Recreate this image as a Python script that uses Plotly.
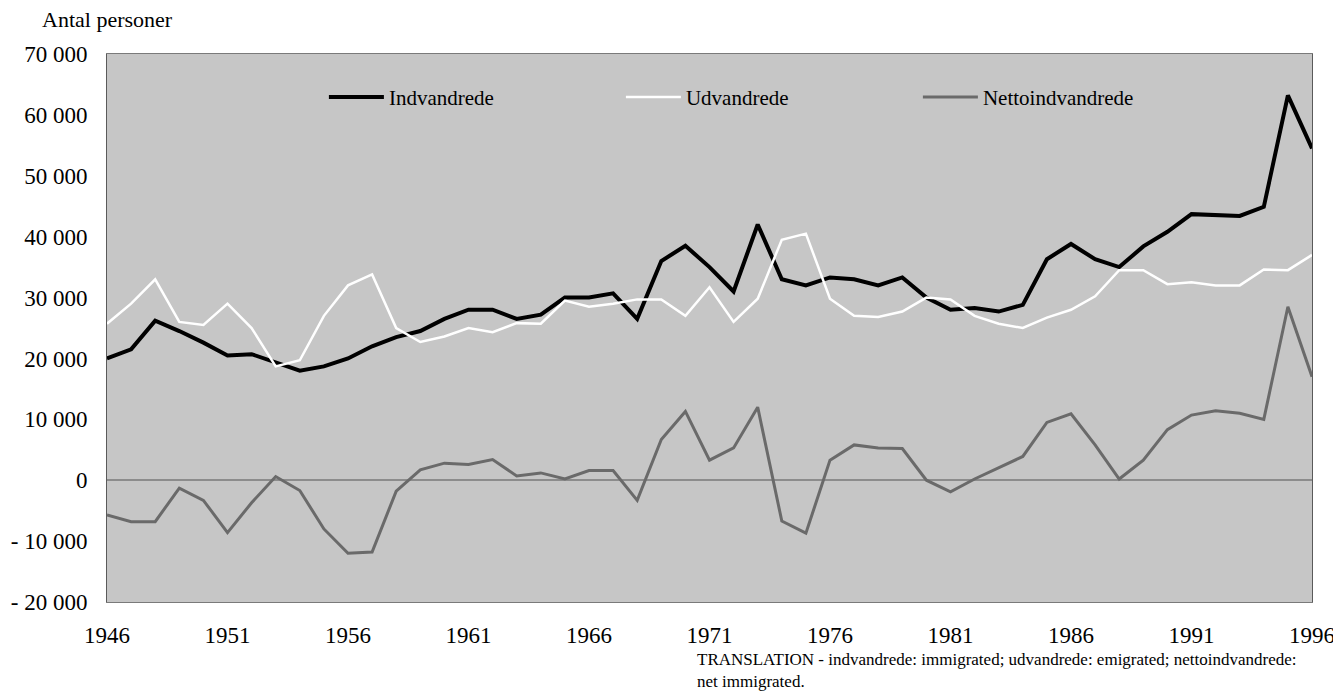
import plotly.graph_objects as go

years = list(range(1946, 1997))

indvandrede = [20000, 21500, 26200, 24500, 22600, 20500, 20700, 19400, 18000, 18700,
               20000, 22000, 23500, 24500, 26500, 28000, 28000, 26500, 27200, 30000,
               30000, 30700, 26500, 36000, 38500, 35000, 31000, 42000, 33000, 32000,
               33300, 33000, 32000, 33300, 30000, 28000, 28300, 27700, 28800, 36300,
               38800, 36300, 35000, 38400, 40800, 43700, 43500, 43400, 44900, 63200,
               54500]

udvandrede = [25700, 29000, 33000, 26000, 25500, 29000, 25000, 18700, 19700, 27000,
              32000, 33800, 25000, 22700, 23600, 25000, 24300, 25800, 25700, 29500,
              28500, 29000, 29700, 29700, 27000, 31700, 26000, 29800, 39500, 40500,
              29800, 27000, 26800, 27700, 30000, 29700, 27000, 25700, 25000, 26700,
              28000, 30200, 34500, 34500, 32200, 32500, 32000, 32000, 34600, 34500,
              37000]

netto = [-5700, -6800, -6800, -1300, -3300, -8600, -3700, 600, -1700, -8000,
         -12000, -11800, -1800, 1700, 2800, 2600, 3400, 700, 1200, 200,
         1600, 1600, -3300, 6700, 11300, 3300, 5300, 12000, -6700, -8700,
         3300, 5800, 5300, 5200, 0, -1900, 200, 2000, 3900, 9500,
         10900, 5800, 200, 3300, 8300, 10700, 11400, 11000, 10000, 28500,
         17000]

y_ticks = [-20000, -10000, 0, 10000, 20000, 30000, 40000, 50000, 60000, 70000]
y_labels = ["- 20 000", "- 10 000", "0", "10 000", "20 000", "30 000",
            "40 000", "50 000", "60 000", "70 000"]
x_ticks = list(range(1946, 1997, 5))

FONT = "Liberation Serif, Times New Roman, serif"

fig = go.Figure()
fig.add_trace(go.Scatter(x=years, y=indvandrede, mode="lines", name="Indvandrede",
                         line=dict(color="black", width=4)))
fig.add_trace(go.Scatter(x=years, y=udvandrede, mode="lines", name="Udvandrede",
                         line=dict(color="white", width=2.5)))
fig.add_trace(go.Scatter(x=years, y=netto, mode="lines", name="Nettoindvandrede",
                         line=dict(color="#6a6a6a", width=3)))

# page body has an 8px margin on every side, keep the figure inside the window
fig.update_layout(
    width=1333, height=683,
    margin=dict(l=99, r=29, t=46, b=89),
    paper_bgcolor="white",
    plot_bgcolor="#c6c6c6",
    font=dict(family=FONT, color="black", size=22),
    legend=dict(orientation="h", x=0.18, y=0.921, xanchor="left", yanchor="middle",
                bgcolor="rgba(0,0,0,0)", entrywidth=227, entrywidthmode="pixels",
                itemwidth=55, font=dict(size=21)),
    xaxis=dict(range=[1946, 1996], tickvals=x_ticks, ticks="", showgrid=False,
               zeroline=False, showline=True, linecolor="#7a7a7a", mirror=True,
               tickfont=dict(size=23), ticklabelstandoff=12, automargin=False),
    yaxis=dict(range=[-20000, 70000], tickvals=y_ticks, ticktext=y_labels,
               ticks="", showgrid=False, zeroline=True, zerolinecolor="#8c8c8c",
               zerolinewidth=1.5, showline=True, linecolor="#5a5a5a", mirror=True,
               tickfont=dict(size=23), ticklabelstandoff=14, automargin=False),
    showlegend=True,
    annotations=[
        dict(text="Antal personer", xref="paper", yref="paper", x=-0.056, y=1.0,
             xanchor="left", yanchor="bottom", yshift=20, showarrow=False,
             font=dict(size=22)),
        dict(text="TRANSLATION - indvandrede: immigrated; udvandrede: emigrated; nettoindvandrede:<br>net immigrated.",
             xref="paper", yref="paper", x=0.488, y=0, xanchor="left", yanchor="top",
             yshift=-46, showarrow=False, align="left", font=dict(size=17)),
    ],
)

fig.write_html("out.html")
